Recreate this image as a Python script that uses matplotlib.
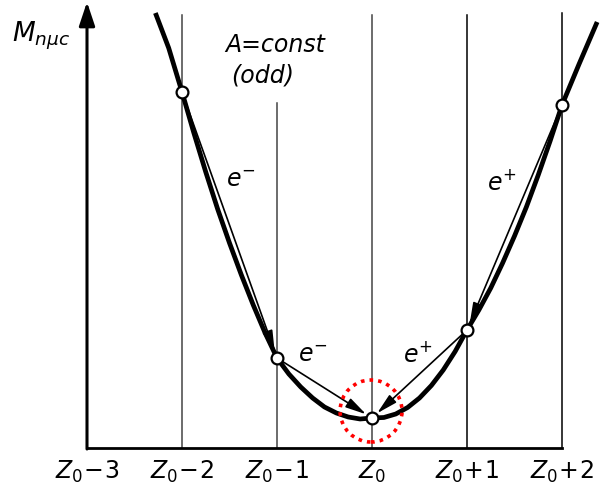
import matplotlib
matplotlib.use("Agg")
import matplotlib.pyplot as plt
from matplotlib.patches import Ellipse

plt.rcParams['mathtext.fontset'] = 'dejavusans'
plt.rcParams['mathtext.default'] = 'it'

# ---- data ----
tick_pos = [-3, -2, -1, 0, 1, 2]
tick_labels = [r"$Z_0\!-\!3$", r"$Z_0\!-\!2$", r"$Z_0\!-\!1$", r"$Z_0$", r"$Z_0\!+\!1$", r"$Z_0\!+\!2$"]

# mass parabola (arbitrary units)
curve_x = [-2.28, -2.14, -2, -1.875, -1.75, -1.625, -1.5, -1.375, -1.25, -1.125,
           -1, -0.875, -0.75, -0.625, -0.5, -0.375, -0.25, -0.125, 0,
           0.125, 0.25, 0.375, 0.5, 0.625, 0.75, 0.875, 1,
           1.125, 1.25, 1.375, 1.5, 1.625, 1.75, 1.875, 2, 2.18, 2.37]
curve_m = [435, 400, 356, 315, 276, 239, 205, 173, 143, 115,
           90, 74, 61, 50, 41, 35, 31, 29, 30,
           30.5, 34, 40.5, 50, 62.5, 78, 96.5, 118,
           138, 160, 185, 212, 241, 273, 307, 343, 384, 426]

# isobars
nuc_x = [-2, -1, 0, 1, 2]
nuc_m = [356, 90, 30, 118, 343]

# decays (from index -> to index)
decays = [(0, 1), (1, 2), (3, 2), (4, 3)]
decay_labels = [r"$e^{-}$", r"$e^{-}$", r"$e^{+}$", r"$e^{+}$"]
decay_label_pos = [(-1.38, 268), (-0.62, 93), (0.48, 93), (1.37, 266)]

vline_tops = [433, 345, 433, 433, 435]

fig = plt.figure(figsize=(6.02, 4.96), dpi=100)
ax = fig.add_axes([87/602, 1-448/496, 475/602, 433/496])
ax.set_xlim(-3, 2)
ax.set_ylim(0, 433)

for s in ['top', 'right', 'left']:
    ax.spines[s].set_visible(False)
ax.spines['bottom'].set_linewidth(2.0)
ax.set_yticks([])
ax.set_xticks(tick_pos)
ax.set_xticklabels(tick_labels, fontsize=17)
ax.tick_params(axis='x', length=0, pad=8)

# y-axis with arrow head
ax.annotate("", xy=(-3, 446), xytext=(-3, -1), annotation_clip=False,
            arrowprops=dict(arrowstyle='-|>,head_length=0.9,head_width=0.3',
                            lw=2.2, color='black',
                            mutation_scale=16, shrinkA=0, shrinkB=0))

# vertical lines
for x, top in zip(nuc_x, vline_tops):
    col = '#444444' if x <= 0 else 'black'
    ax.plot([x, x], [0, top], color=col, lw=1.1, zorder=1, clip_on=False)

# curve
ax.plot(curve_x, curve_m, color='black', lw=3.4, solid_capstyle='butt',
        solid_joinstyle='round', zorder=3, clip_on=False)

# decay arrows
for (i, j) in decays:
    ax.annotate("", xy=(nuc_x[j], nuc_m[j]), xytext=(nuc_x[i], nuc_m[i]),
                arrowprops=dict(arrowstyle='-|>,head_length=0.9,head_width=0.22',
                                lw=1.2, color='black', mutation_scale=14,
                                shrinkA=5, shrinkB=5), zorder=4)

for lbl, (lx, ly) in zip(decay_labels, decay_label_pos):
    ax.text(lx, ly, lbl, fontsize=17, ha='center', va='center')

# points
ax.plot(nuc_x, nuc_m, 'o', ms=8.5, mfc='white', mec='black', mew=1.6,
        zorder=6, clip_on=False)

# red dotted circle
ax.add_patch(Ellipse((-0.01, 37), 62/95, 62, fill=False, edgecolor='red',
                     lw=2.6, linestyle=(0, (1, 1.4)), zorder=7))

# texts
ax.text(-1.02, 403, "A=const", fontsize=17, style='italic', ha='center', va='center')
ax.text(-1.15, 373, "(odd)", fontsize=17, style='italic', ha='center', va='center')
fig.text(12/602, 1-36/496, r"$M_{n\mu c}$", fontsize=19, ha='left', va='center')

fig.savefig("out.png", dpi=100)
